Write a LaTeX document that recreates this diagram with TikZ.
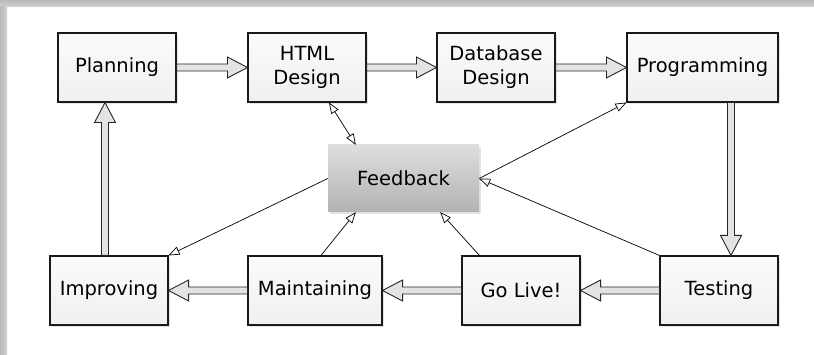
\documentclass[tikz,border=0pt]{standalone}
\usepackage{fontspec}
\setmainfont{DejaVu Sans}
\usetikzlibrary{arrows.meta,calc,shadows}
\tikzset{
  box/.style={draw=black!90, line width=1.1pt, top color=gray!3, bottom color=gray!12,
    minimum height=69pt, inner sep=0pt, align=center,
    font=\fontsize{19.5}{24}\selectfont,
    drop shadow={opacity=0.22,shadow xshift=2pt,shadow yshift=-2pt}},
  fbbox/.style={top color=black!13, bottom color=black!30, inner sep=0pt,
    minimum width=151pt, minimum height=67pt, font=\fontsize{19.5}{24}\selectfont,
    drop shadow={opacity=0.22,shadow xshift=2pt,shadow yshift=-2pt}},
  fatstyle/.style={draw=black!85, line width=0.9pt, fill=gray!22, line join=miter},
  fbtip/.style={Triangle[length=11pt,width=8.5pt,fill=white]},
  fbarrow/.style={draw=black, line width=0.7pt, -{Triangle[length=11pt,width=8.5pt,fill=white]}},
}
\newcommand\fatarr[2]{%
  \path (#1) coordinate (fa1) (#2) coordinate (fa2);
  \path ($(fa2)!20pt!(fa1)$) coordinate (fah);
  \draw[fatstyle] ($(fa1)!3.5pt!90:(fa2)$) -- ($(fah)!3.5pt!-90:(fa1)$)
    -- ($(fah)!10.5pt!-90:(fa1)$) -- (fa2) -- ($(fah)!10.5pt!90:(fa1)$)
    -- ($(fah)!3.5pt!90:(fa1)$) -- ($(fa1)!3.5pt!-90:(fa2)$) -- cycle;}
\begin{document}
\begin{tikzpicture}[x=1pt,y=1pt]
\useasboundingbox (0,0) rectangle (814,355);
\fill[white] (0,0) rectangle (814,355);
\shade[top color=gray!55, bottom color=gray!35] (0,348) rectangle (814,355);
\shade[left color=gray!55, right color=gray!35] (0,0) rectangle (7,348);

\node[box, minimum width=118pt] (plan) at (117,287.5) {Planning};
\node[box, minimum width=118pt] (html) at (307,287.5) {HTML\\Design};
\node[box, minimum width=118pt] (db) at (496,287.5) {Database\\Design};
\node[box, minimum width=151pt] (prog) at (702.5,287.5) {Programming};
\node[box, minimum width=118pt] (impr) at (109,64.5) {Improving};
\node[box, minimum width=134pt] (maint) at (315,64.5) {Maintaining};
\node[box, minimum width=118pt] (golive) at (521,64.5) {Go Live!};
\node[box, minimum width=118pt] (test) at (719,64.5) {Testing};
\node[fbbox] (fb) at (403.5,176.5) {Feedback};

\coordinate (pt1) at ([xshift=12pt]test.north);
\coordinate (ip) at ([xshift=-4pt]impr.north);

\fatarr{plan.east}{html.west}
\fatarr{html.east}{db.west}
\fatarr{db.east}{prog.west}
\fatarr{pt1 |- prog.south}{pt1}
\fatarr{test.west}{golive.east}
\fatarr{golive.west}{maint.east}
\fatarr{maint.west}{impr.east}
\fatarr{ip}{ip |- plan.south}

\draw[fbarrow, {Triangle[length=11pt,width=8.5pt,fill=white]}-{Triangle[length=11pt,width=8.5pt,fill=white]}]
  ([xshift=22pt]html.south) -- ([xshift=28pt]fb.north west);
\draw[fbarrow] (fb.east) -- (prog.south west);
\draw[fbarrow] (test.north west) -- (fb.east);
\draw[fbarrow] ([xshift=18pt]golive.north west) -- ([xshift=-39pt]fb.south east);
\draw[fbarrow] ([xshift=6pt]maint.north) -- ([xshift=28pt]fb.south west);
\draw[fbarrow] (fb.west) -- (impr.north east);
\end{tikzpicture}
\end{document}
